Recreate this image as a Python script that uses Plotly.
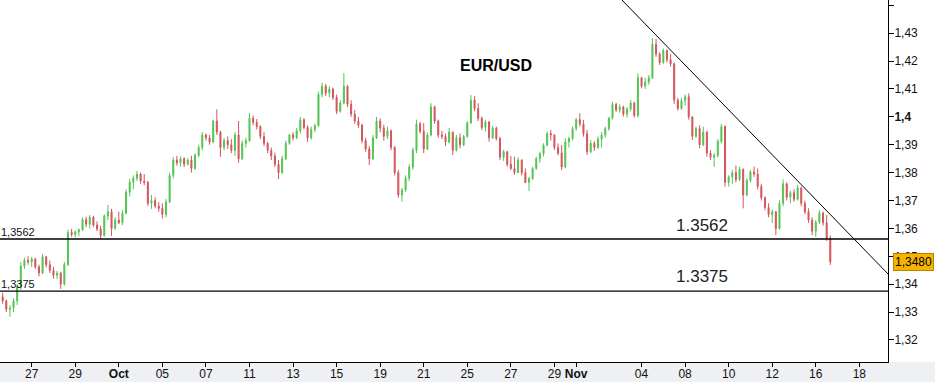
import numpy as np
import pandas as pd
import plotly.graph_objects as go

# ---------------- data (EUR/USD, 4-hour bars) ----------------
bar_start = "2010-09-23 16:00"
bar_end = "2010-11-16 16:00"

open_ = [
    1.3355,1.3340,1.3310,1.3315,1.3340,1.3390,1.3465,1.3485,1.3480,1.3490,
    1.3462,1.3440,1.3498,1.3470,1.3450,1.3432,1.3440,1.3400,1.3470,1.3585,
    1.3578,1.3588,1.3595,1.3632,1.3615,1.3640,1.3612,1.3598,1.3575,1.3645,
    1.3660,1.3600,1.3630,1.3620,1.3655,1.3730,1.3765,1.3780,1.3795,1.3770,
    1.3765,1.3690,1.3700,1.3680,1.3672,1.3650,1.3695,1.3790,1.3845,1.3835,
    1.3850,1.3830,1.3845,1.3815,1.3862,1.3890,1.3935,1.3925,1.3910,1.3985,
    1.3945,1.3890,1.3915,1.3900,1.3880,1.3935,1.3850,1.3905,1.3915,1.3995,
    1.3980,1.3965,1.3930,1.3905,1.3880,1.3860,1.3830,1.3800,1.3850,1.3905,
    1.3935,1.3925,1.3950,1.3990,1.3962,1.3925,1.3955,1.3968,1.4080,1.4110,
    1.4085,1.4100,1.4070,1.4020,1.4050,1.4110,1.4045,1.4010,1.3985,1.3970,
    1.3915,1.3885,1.3850,1.3925,1.3985,1.3960,1.3930,1.3950,1.3890,1.3800,
    1.3720,1.3738,1.3780,1.3820,1.3880,1.3975,1.3948,1.3885,1.3935,1.4035,
    1.3985,1.3935,1.3930,1.3910,1.3945,1.3880,1.3925,1.3900,1.3930,1.3978,
    1.4060,1.4030,1.3995,1.3962,1.3982,1.3925,1.3960,1.3922,1.3855,1.3875,
    1.3830,1.3815,1.3800,1.3845,1.3800,1.3765,1.3778,1.3815,1.3850,1.3868,
    1.3898,1.3940,1.3935,1.3890,1.3870,1.3820,1.3910,1.3922,1.3958,1.3990,
    1.3975,1.3940,1.3875,1.3905,1.3890,1.3920,1.3935,1.3958,1.3995,1.4045,
    1.4025,1.4035,1.4010,1.4028,1.4050,1.4005,1.4140,1.4110,1.4125,1.4140,
    1.4260,1.4225,1.4195,1.4238,1.4205,1.4190,1.4060,1.4030,1.4058,1.4072,
    1.4000,1.3930,1.3958,1.3900,1.3945,1.3870,1.3855,1.3862,1.3912,1.3965,
    1.3765,1.3785,1.3800,1.3775,1.3812,1.3720,1.3772,1.3802,1.3795,1.3750,
    1.3710,1.3675,1.3650,1.3660,1.3600,1.3690,1.3760,1.3712,1.3728,1.3705,
    1.3745,1.3690,1.3660,1.3630,1.3590,1.3622,1.3655,1.3620,1.3565,
]
high = [
    1.3370,1.3345,1.3325,1.3350,1.3400,1.3480,1.3495,1.3500,1.3498,1.3495,
    1.3470,1.3508,1.3502,1.3485,1.3462,1.3448,1.3445,1.3480,1.3595,1.3598,
    1.3592,1.3600,1.3640,1.3642,1.3648,1.3645,1.3625,1.3610,1.3650,1.3684,
    1.3670,1.3640,1.3660,1.3665,1.3740,1.3778,1.3790,1.3806,1.3800,1.3795,
    1.3770,1.3720,1.3712,1.3695,1.3690,1.3705,1.3800,1.3855,1.3860,1.3858,
    1.3855,1.3852,1.3860,1.3870,1.3900,1.3945,1.3940,1.3935,1.3990,1.4027,
    1.3950,1.3925,1.3930,1.3920,1.3945,1.3985,1.3915,1.3925,1.4014,1.4005,
    1.3992,1.3970,1.3945,1.3910,1.3890,1.3872,1.3845,1.3860,1.3915,1.3940,
    1.3945,1.3960,1.4000,1.3995,1.3970,1.3965,1.3975,1.4090,1.4122,1.4118,
    1.4110,1.4105,1.4080,1.4060,1.4157,1.4115,1.4060,1.4025,1.4000,1.3975,
    1.3925,1.3895,1.3935,1.4000,1.3995,1.3972,1.3965,1.3955,1.3895,1.3810,
    1.3745,1.3790,1.3830,1.3890,1.3990,1.3982,1.3978,1.3945,1.4049,1.4040,
    1.3990,1.3950,1.3940,1.3960,1.3947,1.3935,1.3941,1.3935,1.3985,1.4078,
    1.4074,1.4049,1.4001,1.3990,1.3985,1.3968,1.3965,1.3929,1.3882,1.3878,
    1.3860,1.3857,1.3855,1.3848,1.3815,1.3785,1.3821,1.3857,1.3875,1.3905,
    1.3947,1.3953,1.3937,1.3905,1.3899,1.3923,1.3929,1.3965,1.3995,1.4013,
    1.3989,1.3953,1.3917,1.3912,1.3929,1.3945,1.3965,1.4000,1.4054,1.4050,
    1.4045,1.4040,1.4035,1.4060,1.4054,1.4156,1.4144,1.4140,1.4150,1.4282,
    1.4280,1.4232,1.4245,1.4242,1.4225,1.4195,1.4068,1.4068,1.4080,1.4084,
    1.4001,1.3965,1.3970,1.3965,1.3950,1.3880,1.3870,1.3920,1.3975,1.3970,
    1.3790,1.3810,1.3825,1.3821,1.3815,1.3780,1.3810,1.3822,1.3815,1.3760,
    1.3715,1.3690,1.3668,1.3662,1.3700,1.3776,1.3765,1.3735,1.3740,1.3756,
    1.3750,1.3700,1.3672,1.3640,1.3630,1.3665,1.3660,1.3648,1.3575,
]
low = [
    1.3330,1.3300,1.3283,1.3300,1.3325,1.3380,1.3455,1.3470,1.3462,1.3455,
    1.3428,1.3435,1.3460,1.3440,1.3420,1.3418,1.3383,1.3395,1.3465,1.3570,
    1.3568,1.3572,1.3590,1.3605,1.3600,1.3605,1.3590,1.3562,1.3570,1.3630,
    1.3573,1.3595,1.3615,1.3612,1.3650,1.3715,1.3740,1.3770,1.3760,1.3755,
    1.3680,1.3670,1.3672,1.3660,1.3636,1.3640,1.3690,1.3780,1.3825,1.3822,
    1.3820,1.3825,1.3800,1.3810,1.3855,1.3880,1.3915,1.3900,1.3905,1.3935,
    1.3857,1.3880,1.3885,1.3870,1.3860,1.3835,1.3845,1.3890,1.3910,1.3970,
    1.3955,1.3920,1.3895,1.3870,1.3845,1.3820,1.3777,1.3795,1.3845,1.3900,
    1.3915,1.3920,1.3940,1.3955,1.3910,1.3918,1.3945,1.3965,1.4070,1.4075,
    1.4070,1.4060,1.4010,1.4015,1.4045,1.4035,1.4000,1.3975,1.3960,1.3905,
    1.3875,1.3827,1.3845,1.3920,1.3945,1.3915,1.3920,1.3880,1.3790,1.3710,
    1.3696,1.3730,1.3770,1.3810,1.3870,1.3940,1.3870,1.3880,1.3930,1.3975,
    1.3925,1.3920,1.3895,1.3905,1.3863,1.3876,1.3887,1.3895,1.3925,1.3975,
    1.4020,1.3985,1.3953,1.3948,1.3911,1.3920,1.3915,1.3845,1.3842,1.3821,
    1.3809,1.3792,1.3798,1.3790,1.3762,1.3734,1.3775,1.3810,1.3835,1.3858,
    1.3895,1.3915,1.3881,1.3862,1.3809,1.3815,1.3890,1.3915,1.3950,1.3965,
    1.3929,1.3863,1.3869,1.3878,1.3885,1.3890,1.3925,1.3950,1.3990,1.4018,
    1.4015,1.4001,1.3998,1.4020,1.3998,1.3998,1.4102,1.4100,1.4115,1.4135,
    1.4215,1.4186,1.4190,1.4195,1.4180,1.4046,1.4022,1.4025,1.4040,1.3990,
    1.3917,1.3925,1.3887,1.3895,1.3857,1.3845,1.3821,1.3855,1.3905,1.3750,
    1.3750,1.3760,1.3765,1.3770,1.3672,1.3715,1.3765,1.3785,1.3740,1.3700,
    1.3665,1.3640,1.3620,1.3576,1.3595,1.3680,1.3700,1.3690,1.3695,1.3700,
    1.3680,1.3650,1.3620,1.3576,1.3570,1.3615,1.3610,1.3555,1.3469,
]
close = [
    1.3340,1.3310,1.3315,1.3340,1.3390,1.3465,1.3485,1.3480,1.3490,1.3462,
    1.3440,1.3498,1.3470,1.3450,1.3432,1.3440,1.3400,1.3470,1.3585,1.3578,
    1.3588,1.3595,1.3632,1.3615,1.3640,1.3612,1.3598,1.3575,1.3645,1.3660,
    1.3600,1.3630,1.3620,1.3655,1.3730,1.3765,1.3780,1.3795,1.3770,1.3765,
    1.3690,1.3700,1.3680,1.3672,1.3650,1.3695,1.3790,1.3845,1.3835,1.3850,
    1.3830,1.3845,1.3815,1.3862,1.3890,1.3935,1.3925,1.3910,1.3985,1.3945,
    1.3890,1.3915,1.3900,1.3880,1.3935,1.3850,1.3905,1.3915,1.3995,1.3980,
    1.3965,1.3930,1.3905,1.3880,1.3860,1.3830,1.3800,1.3850,1.3905,1.3935,
    1.3925,1.3950,1.3990,1.3962,1.3925,1.3955,1.3968,1.4080,1.4110,1.4085,
    1.4100,1.4070,1.4020,1.4050,1.4110,1.4045,1.4010,1.3985,1.3970,1.3915,
    1.3885,1.3850,1.3925,1.3985,1.3960,1.3930,1.3950,1.3890,1.3800,1.3720,
    1.3738,1.3780,1.3820,1.3880,1.3975,1.3948,1.3885,1.3935,1.4035,1.3985,
    1.3935,1.3930,1.3910,1.3945,1.3880,1.3925,1.3900,1.3930,1.3978,1.4060,
    1.4030,1.3995,1.3962,1.3982,1.3925,1.3960,1.3922,1.3855,1.3875,1.3830,
    1.3815,1.3800,1.3845,1.3800,1.3765,1.3778,1.3815,1.3850,1.3868,1.3898,
    1.3940,1.3935,1.3890,1.3870,1.3820,1.3910,1.3922,1.3958,1.3990,1.3975,
    1.3940,1.3875,1.3905,1.3890,1.3920,1.3935,1.3958,1.3995,1.4045,1.4025,
    1.4035,1.4010,1.4028,1.4050,1.4005,1.4140,1.4110,1.4125,1.4140,1.4260,
    1.4225,1.4195,1.4238,1.4205,1.4190,1.4060,1.4030,1.4058,1.4072,1.4000,
    1.3930,1.3958,1.3900,1.3945,1.3870,1.3855,1.3862,1.3912,1.3965,1.3765,
    1.3785,1.3800,1.3775,1.3812,1.3720,1.3772,1.3802,1.3795,1.3750,1.3710,
    1.3675,1.3650,1.3660,1.3600,1.3690,1.3760,1.3712,1.3728,1.3705,1.3745,
    1.3690,1.3660,1.3630,1.3590,1.3622,1.3655,1.3620,1.3565,1.3480,
]

tick_dates = ["2010-09-27", "2010-09-29", "2010-10-01", "2010-10-05", "2010-10-07",
              "2010-10-11", "2010-10-13", "2010-10-15", "2010-10-19", "2010-10-21",
              "2010-10-25", "2010-10-27", "2010-10-29", "2010-11-01", "2010-11-04",
              "2010-11-08", "2010-11-10", "2010-11-12", "2010-11-16", "2010-11-18"]
tick_labels = ["27", "29", "<b>Oct</b>", "05", "07", "11", "13", "15", "19", "21",
               "25", "27", "29", "<b>Nov</b>", "04", "08", "10", "12", "16", "18"]

price_ticks = [1.32, 1.33, 1.34, 1.35, 1.36, 1.37, 1.38, 1.39, 1.40, 1.41, 1.42, 1.43, 1.44]
price_labels = ["1,32", "1,33", "1,34", "1,35", "1,36", "1,37", "1,38", "1,39",
                "<b>1,4</b>", "1,41", "1,42", "1,43", "1,44"]

support_levels = [1.3562, 1.3375]
trend_dates = ["2010-11-03 00:00", "2010-11-19 12:00"]
trend_prices = [1.4427, 1.3422]
last_price = 1.3480

# ---------------- trading-day axis (weekends removed) ----------------
BASE = np.datetime64("2010-09-27")


def trading_day(stamps):
    ts = pd.DatetimeIndex(pd.to_datetime(stamps))
    days = np.busday_count(BASE, ts.normalize().values.astype("datetime64[D]"))
    frac = (np.asarray(ts.hour) + np.asarray(ts.minute) / 60.0) / 24.0
    return days + frac


bar_times = pd.date_range(bar_start, bar_end, freq="4h")
bar_times = bar_times[bar_times.dayofweek < 5]
bar_x = trading_day(bar_times)[:len(close)]

tick_x = trading_day(tick_dates)
trend_x = trading_day(trend_dates)

GREEN = "#52c552"
RED = "#d4555c"
FONT = "Liberation Sans, Arial, sans-serif"

fig = go.Figure()
fig.add_trace(go.Candlestick(
    x=bar_x, open=open_, high=high, low=low, close=close,
    increasing=dict(line=dict(color=GREEN, width=1), fillcolor=GREEN),
    decreasing=dict(line=dict(color=RED, width=1), fillcolor=RED),
    whiskerwidth=0, hoverinfo="skip", showlegend=False,
))

fig.add_trace(go.Scatter(
    x=trend_x, y=trend_prices, mode="lines",
    line=dict(color="#000000", width=1), hoverinfo="skip", showlegend=False,
))

shapes = [dict(type="rect", xref="paper", yref="paper", x0=0, x1=1.06,
               y0=-20 / 362, y1=0, fillcolor="#eef0f3", line=dict(width=0),
               layer="below")]
for lvl in support_levels:
    shapes.append(dict(type="line", xref="paper", yref="y", x0=0, x1=1,
                       y0=lvl, y1=lvl, line=dict(color="#000000", width=1.3),
                       layer="above"))

annotations = []
for lvl, shift in zip(support_levels, [3, 4]):
    lbl_comma = f"{lvl:.4f}".replace(".", ",")
    annotations.append(dict(
        xref="paper", yref="y", x=0, y=lvl, xanchor="left", yanchor="bottom",
        text=lbl_comma, showarrow=False, borderpad=0, yshift=0,
        font=dict(family=FONT, size=11, color="#111111"),
    ))
    annotations.append(dict(
        xref="paper", yref="y", x=0.7905, y=lvl, xanchor="center", yanchor="bottom",
        text=f"{lvl:.4f}", showarrow=False, borderpad=0, yshift=shift,
        font=dict(family=FONT, size=17, color="#222222"),
    ))

annotations.append(dict(
    xref="paper", yref="paper", x=0.558, y=0.818, xanchor="center", yanchor="middle",
    text="<b>EUR/USD</b>", showarrow=False,
    font=dict(family=FONT, size=16, color="#000000"),
))
annotations.append(dict(
    xref="paper", yref="y", x=1.0056, y=last_price, xanchor="left", yanchor="middle",
    text=f"{last_price:.4f}".replace(".", ","), showarrow=False,
    bgcolor="#f6b400", bordercolor="#b98300", borderwidth=1, borderpad=1,
    font=dict(family=FONT, size=12, color="#000000"),
))

fig.update_layout(
    width=935, height=382, autosize=False,
    margin=dict(l=0, r=47, t=0, b=20, pad=0),
    paper_bgcolor="#ffffff", plot_bgcolor="#ffffff",
    showlegend=False,
    boxgap=0.6,
    annotations=annotations,
    shapes=shapes,
    xaxis=dict(
        range=[-1.455, 39.316], rangeslider=dict(visible=False),
        tickmode="array", tickvals=tick_x, ticktext=tick_labels,
        ticks="outside", ticklen=4, tickcolor="#000000",
        ticklabelstandoff=-3,
        showline=True, linecolor="#000000", linewidth=1,
        showgrid=False, zeroline=False, automargin=False,
        tickfont=dict(family=FONT, size=12, color="#111111"),
    ),
    yaxis=dict(
        side="right", range=[1.3121, 1.4419],
        tickmode="array", tickvals=price_ticks, ticktext=price_labels,
        ticks="outside", ticklen=5, tickcolor="#000000",
        ticklabelstandoff=-2,
        showline=True, linecolor="#000000", linewidth=1,
        showgrid=False, zeroline=False, automargin=False,
        tickfont=dict(family=FONT, size=12, color="#111111"),
    ),
)

fig.write_html("out.html")
